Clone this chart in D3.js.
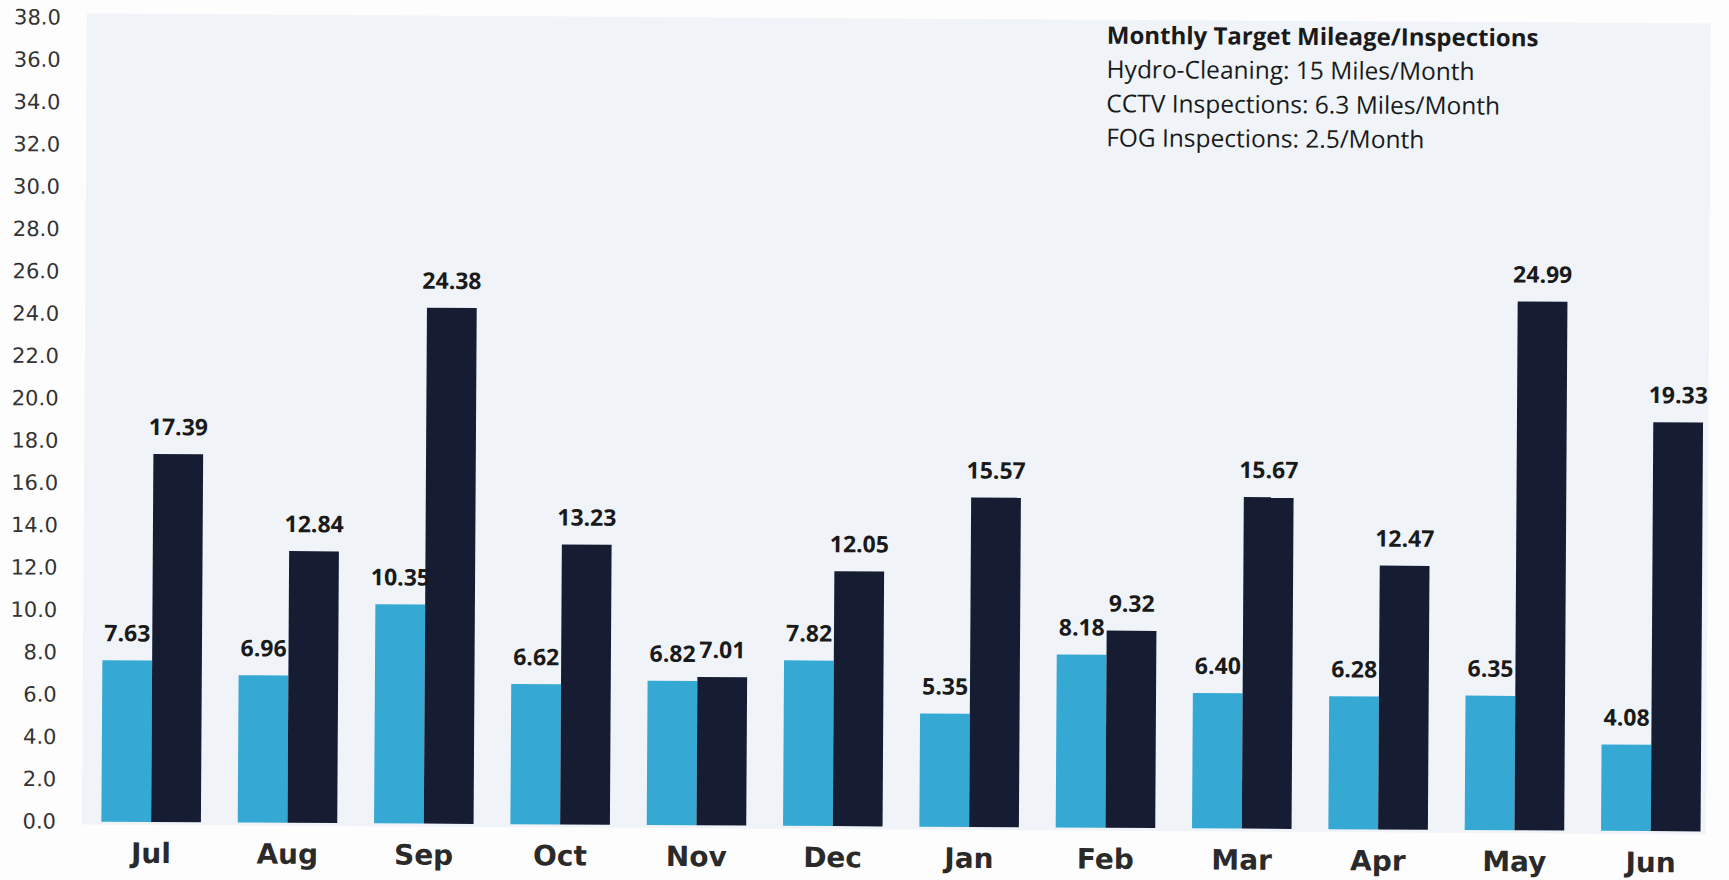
<!DOCTYPE html>
<html>
<head>
<meta charset="utf-8">
<script src="https://cdn.jsdelivr.net/npm/d3@7"></script>
<style>
  html, body { margin: 0; padding: 0; background: #fdfdfd; }
  svg { display: block; }
</style>
</head>
<body>
<div id="chart"></div>
<script>
// Monthly values
const months = ["Jul", "Aug", "Sep", "Oct", "Nov", "Dec", "Jan", "Feb", "Mar", "Apr", "May", "Jun"];
const cctvMiles = [7.63, 6.96, 10.35, 6.62, 6.82, 7.82, 5.35, 8.18, 6.40, 6.28, 6.35, 4.08];
const hydroMiles = [17.39, 12.84, 24.38, 13.23, 7.01, 12.05, 15.57, 9.32, 15.67, 12.47, 24.99, 19.33];
const yTicks = d3.range(0, 38.01, 2);
const noteLines = [
  "Monthly Target Mileage/Inspections",
  "Hydro-Cleaning: 15 Miles/Month",
  "CCTV Inspections: 6.3 Miles/Month",
  "FOG Inspections: 2.5/Month"
];

const seriesKeys = ["cctv", "hydro"];
const colors = { cctv: "#35a8d4", hydro: "#161d33" };

const data = months.map((m, i) => ({ month: m, cctv: cctvMiles[i], hydro: hydroMiles[i] }));

const width = 1729, height = 880;

const svg = d3.select("#chart").append("svg")
  .attr("width", width)
  .attr("height", height);

// the scan is tilted a little, right side sits lower
const root = svg.append("g").attr("transform", "rotate(0.35)");

// plot background (light blue-grey panel)
root.append("rect")
  .attr("x", 87).attr("y", 13)
  .attr("width", 1624).attr("height", 811)
  .attr("fill", "#f0f4f8");

const x = d3.scaleBand()
  .domain(months)
  .range([88, 1724])
  .paddingInner(0.27)
  .paddingOuter(0.135);

const xInner = d3.scaleBand()
  .domain(seriesKeys)
  .range([0, x.bandwidth()]);

const y = d3.scaleLinear()
  .domain([0, 38])
  .range([821, 17]);

// y axis labels only, no line
const yAxis = root.append("g")
  .attr("transform", "translate(61,0)")
  .call(d3.axisLeft(y).tickValues(yTicks).tickFormat(d3.format(".1f")).tickSize(0).tickPadding(0));
yAxis.select(".domain").remove();
yAxis.selectAll("text")
  .attr("font-family", "DejaVu Sans, Verdana, sans-serif")
  .attr("font-size", 21)
  .attr("fill", "#333");

// x axis month labels
const xAxis = root.append("g")
  .attr("transform", "translate(0,862)")
  .call(d3.axisBottom(x).tickSize(0).tickPadding(0));
xAxis.select(".domain").remove();
xAxis.selectAll("text")
  .attr("font-family", "DejaVu Sans, Verdana, sans-serif")
  .attr("font-weight", 700)
  .attr("font-size", 28)
  .attr("fill", "#2a2a2a")
  .attr("y", 0)
  .attr("dy", 0);

// bars
const groups = root.append("g").selectAll("g")
  .data(data)
  .join("g")
  .attr("transform", d => `translate(${x(d.month)},0)`);

groups.selectAll("rect")
  .data(d => seriesKeys.map(k => ({ key: k, value: d[k] })))
  .join("rect")
  .attr("x", d => xInner(d.key))
  .attr("y", d => y(d.value))
  .attr("width", xInner.bandwidth())
  .attr("height", d => y(0) - y(d.value))
  .attr("fill", d => colors[d.key]);

// value labels
groups.selectAll("text.val")
  .data(d => seriesKeys.map(k => ({ key: k, value: d[k] })))
  .join("text")
  .attr("class", "val")
  .attr("x", d => xInner(d.key) + xInner.bandwidth() / 2)
  .attr("y", d => y(d.value) - 19)
  .attr("text-anchor", "middle")
  .attr("font-family", "'Open Sans', Lato, sans-serif")
  .attr("font-weight", 700)
  .attr("font-size", 23)
  .attr("fill", "#1a1a1a")
  .text(d => d.value.toFixed(2));

// target note in the top right
const note = root.append("g").attr("transform", "translate(1107,0)");
note.selectAll("text")
  .data(noteLines)
  .join("text")
  .attr("x", 0)
  .attr("y", (d, i) => 37 + i * 34.2)
  .attr("font-family", "'Open Sans', Lato, sans-serif")
  .attr("font-size", (d, i) => i === 0 ? 24 : 24.5)
  .attr("font-weight", (d, i) => i === 0 ? 700 : 400)
  .attr("fill", "#1a1a1a")
  .text(d => d);
</script>
</body>
</html>
